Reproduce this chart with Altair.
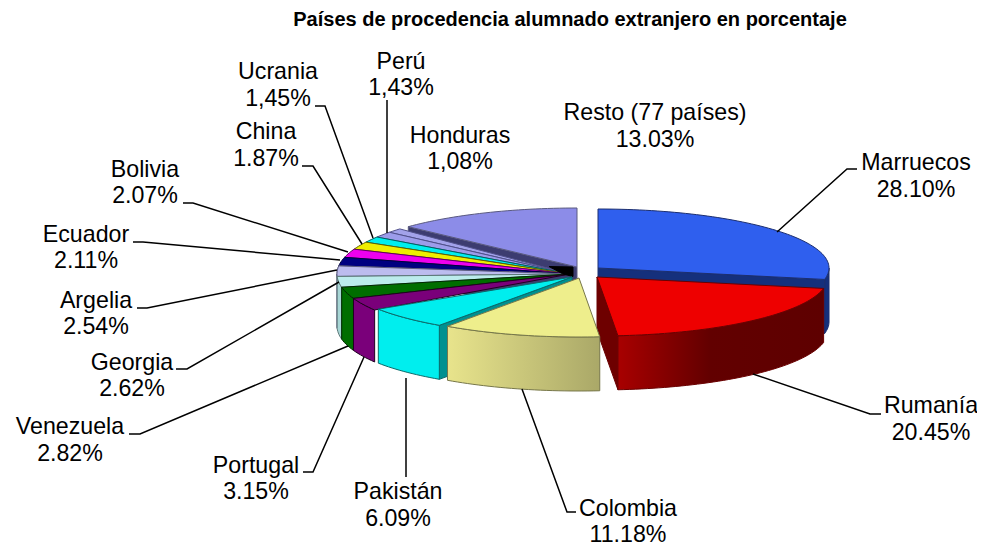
import math
import altair as alt

# ---------- chart values ----------
NAMES = ["Marruecos", "Rumanía", "Colombia", "Pakistán", "Portugal", "Venezuela", "Georgia", "Argelia",
         "Ecuador", "Bolivia", "China", "Ucrania", "Perú", "Honduras", "Resto (77 países)"]
VALUES = [28.10, 20.45, 11.18, 6.09, 3.15, 2.82, 2.62, 2.54, 2.11, 2.07, 1.87, 1.45, 1.43, 1.08, 13.03]
PCT_TEXT = ["28.10%", "20.45%", "11.18%", "6.09%", "3.15%", "2.82%", "2.62%", "2.54%", "2.11%", "2.07%",
            "1.87%", "1,45%", "1,43%", "1,08%", "13.03%"]
TITLE = "Países de procedencia alumnado extranjero en porcentaje"

# ---------- styles ----------
TOP = ["#2f5fee", "#ee0000", "#eeee8c", "#00eeee", "#7a007a", "#006e00", "#bcecec", "#bcbcee",
       "#000080", "#ee00ee", "#eeee00", "#00eeee", "#9c9cea", "#a2a2ea", "#8c8ce8"]
SIDE = ["#15307c", "#7a0000", "#c8c67c", "#00eeee", "#7a007a", "#006e00", "#a8d6d6", "#a8a8d6",
        "#000080", "#ee00ee", "#eeee00", "#00eeee", "#7a7ac0", "#7a7ac0", "#45457c"]
CUT = ["#15307c", "#6e0000", "#8a8a50", "#009090", "#500050", "#004800", "#80a0a0", "#8080a0",
       "#000060", "#900090", "#909000", "#009090", "#5a5a90", "#5a5a90", "#3c3c70"]
EDGE = ["#1c2f70", "#6a0000", "#77774a", "#0a6a6a", "#200020", "#002800", "#5c7878", "#5c5c80",
        "#000040", "#600060", "#606000", "#006060", "#50508a", "#50508a", "#5a5a80"]

# ---------- layout (image pixels) ----------
BASE = dict(cx=570, cy=274, a=233, b=66, d=52)
OFFSETS = {0: dict(cx=598, cy=268, a=231, b=59, d=54),
           1: dict(cx=597, cy=277, a=231, b=59, d=54),
           2: dict(cx=579, cy=278, a=229, b=59, d=54),
           3: dict(cx=572, cy=277, a=231, b=59, d=54),
           14: dict(cx=577, cy=267, a=231, b=59, d=54)}
LABEL_X = [916, 931, 628, 398, 256, 70, 132, 96, 86, 145, 266, 278, 401, 460, 655]
LINE1_Y = [170, 413, 516, 499, 473, 434, 370, 308, 242, 177, 139, 79, 69, 143, 120]
LINE2_Y = [197, 440, 541.5, 526, 499, 461, 396, 334, 268, 203, 166, 106, 95, 169, 147]
LEADER_X = [[857, 847, 777], [881, 870, 753], [576, 567, 522], [406, 406], [303, 313, 364], [129, 140, 348],
            [176, 187, 339], [137, 147, 337], [133, 143, 340], [183, 193, 348], [302, 313, 362], [315, 325, 373],
            [387, 387]]
LEADER_Y = [[169, 169, 232], [414, 414, 374], [512, 512, 389], [378, 477], [472, 472, 357], [434, 434, 346],
            [369, 369, 282], [308, 308, 270], [242, 242, 260], [203, 203, 252], [166, 166, 244], [106, 106, 238],
            [100, 233]]
HUB_RING = [[549, 266.5], [573, 267], [573, 276.5], [563, 274]]

W, H = 969, 539
FONT = "Liberation Sans"


def geom(i):
    return OFFSETS.get(i, BASE)


def pt(i, deg, r=1.0, dz=0.0):
    g = geom(i)
    t = math.radians(deg)
    return [g["cx"] + g["a"] * r * math.sin(t), g["cy"] - g["b"] * r * math.cos(t) + dz]


def arc(i, a0, a1, r=1.0, dz=0.0):
    n = max(2, int(abs(a1 - a0) / 1.5) + 1)
    return [pt(i, a0 + (a1 - a0) * k / n, r, dz) for k in range(n + 1)]


def feature(ring, fill, stroke):
    return {"type": "Feature", "properties": {"fill": fill, "stroke": stroke},
            "geometry": {"type": "Polygon", "coordinates": [ring + [ring[0]]]}}


total = sum(VALUES)
START, END = [], []
acc = 0.0
for v in VALUES:
    START.append(acc / total * 360)
    acc += v
    END.append(acc / total * 360)


def top(i):
    g = geom(i)
    return feature([[g["cx"], g["cy"]]] + arc(i, START[i], END[i]), TOP[i], EDGE[i])


def curved(i, color=None):
    a0, a1 = max(START[i], 90), min(END[i], 270)
    d = geom(i)["d"]
    return feature(arc(i, a0, a1) + arc(i, a1, a0, dz=d), color or SIDE[i], EDGE[i])


def cut(i, deg):
    g = geom(i)
    apex = [g["cx"], g["cy"]]
    rim = pt(i, deg)
    return feature([apex, rim, [rim[0], rim[1] + g["d"]], [apex[0], apex[1] + g["d"]]], CUT[i], EDGE[i])


PROJ = alt.Projection(type="identity", scale=1, translate=[-8, -8])


def shapes(features, fill=None):
    if fill is None:
        return (alt.Chart(alt.Data(values=features)).mark_geoshape(strokeWidth=1)
                .encode(fill=alt.Fill("properties.fill:N", scale=None, legend=None),
                        stroke=alt.Stroke("properties.stroke:N", scale=None, legend=None))
                .project(**PROJ.to_dict()))
    return (alt.Chart(alt.Data(values=features)).mark_geoshape(strokeWidth=1, fill=fill)
            .encode(stroke=alt.Stroke("properties.stroke:N", scale=None, legend=None))
            .project(**PROJ.to_dict()))


def grad(stops):
    return alt.Gradient(gradient="linear", x1=0, x2=1, y1=0, y2=0,
                        stops=[alt.GradientStop(offset=o, color=c) for o, c in stops])


back = [cut(14, START[14]), top(14)]
for i in [13, 12, 11, 10, 9, 8, 7]:
    back.append(top(i))
hub = [feature(HUB_RING, "#000000", "#000000")]
mid = []
for i in [7, 6, 5, 4]:
    if START[i] < 270:
        mid.append(curved(i))
    mid.append(top(i))
pak = [cut(3, START[3]), curved(3), top(3)]
mar = [curved(0), cut(0, END[0]), top(0)]
rum_cut = [cut(1, END[1])]
rum_side = [curved(1)]
rum_top = [top(1)]
col_side = [curved(2)]
col_top = [top(2)]

layers = [
    shapes(back), shapes(mid), shapes(hub), shapes(pak), shapes(mar), shapes(rum_cut),
    shapes(rum_side, grad([(0, "#a80000"), (0.45, "#620000"), (1, "#5e0000")])),
    shapes(rum_top),
    shapes(col_side, grad([(0, "#e8e48c"), (1, "#aaa868")])),
    shapes(col_top),
]

# leader lines
rows = []
for i, (xs, ys) in enumerate(zip(LEADER_X, LEADER_Y)):
    for k, (x, y) in enumerate(zip(xs, ys)):
        rows.append({"name": NAMES[i], "k": k, "x": x, "y": y})
xs = alt.Scale(domain=[8, 8 + W], range=[0, W])
ys = alt.Scale(domain=[8, 8 + H], range=[0, H])
leaders = alt.Chart(alt.Data(values=rows)).mark_line(color="#000000", strokeWidth=1.5).encode(
    x=alt.X("x:Q", scale=xs, axis=None),
    y=alt.Y("y:Q", scale=ys, axis=None),
    detail="name:N",
    order="k:Q",
)

texts = []
for i in range(len(NAMES)):
    texts.append({"t": NAMES[i], "x": LABEL_X[i], "y": LINE1_Y[i]})
    texts.append({"t": PCT_TEXT[i], "x": LABEL_X[i], "y": LINE2_Y[i]})
labels = alt.Chart(alt.Data(values=texts)).mark_text(
    font=FONT, fontSize=23.2, color="#000000", align="center", baseline="alphabetic"
).encode(
    x=alt.X("x:Q", scale=xs, axis=None),
    y=alt.Y("y:Q", scale=ys, axis=None),
    text="t:N",
)
title = alt.Chart(alt.Data(values=[{"t": TITLE, "x": 570, "y": 26.2}])).mark_text(
    font=FONT, fontSize=20, fontWeight="bold", color="#000000", align="center", baseline="alphabetic"
).encode(
    x=alt.X("x:Q", scale=xs, axis=None),
    y=alt.Y("y:Q", scale=ys, axis=None),
    text="t:N",
)

chart = alt.layer(*layers, leaders, labels, title).properties(
    width=W, height=H, padding=0, autosize=alt.AutoSizeParams(type="none"),
    background="#ffffff",
).configure_view(stroke=None)

chart.save("out.html", embed_options={"renderer": "svg", "actions": False})
